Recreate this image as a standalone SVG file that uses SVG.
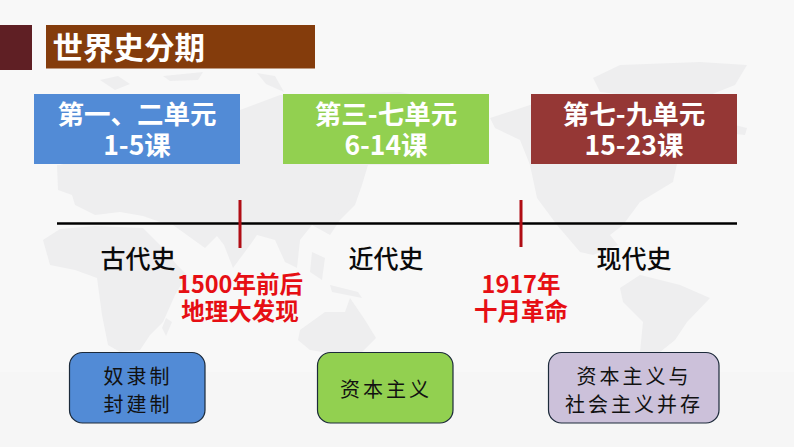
<svg xmlns="http://www.w3.org/2000/svg" width="794" height="447" viewBox="0 0 794 447">
<style>
.cn{font-family:"Noto Sans CJK SC","Liberation Sans",sans-serif}
.hd{font-weight:700;fill:#fff;font-size:26.500px;text-anchor:middle}
.per{font-size:25px;fill:#0a0a0a;text-anchor:middle;font-weight:500}
.red{font-weight:700;fill:#e60f14;font-size:23.500px;text-anchor:middle}
.era{font-size:20px;fill:#111;text-anchor:middle;letter-spacing:3px}
.box{stroke:#1c2a3a;stroke-width:1.2}
.map{fill:#eeeeef}
</style>
<rect width="794" height="447" fill="#f8f8f8"/>
<rect y="372" width="794" height="75" fill="#f6f6f6"/>
<g id="world-map">
<path class="map" d="M100 80L118 76L130 84L115 90Z"/>
<path class="map" d="M163 76L203 72L198 80L170 81Z"/>
<path class="map" d="M257 73L275 76L284 92L266 84Z"/>
<path class="map" d="M240 110L280 95L400 92L440 100L470 130L450 165H57L60 165Z"/>
<path class="map" d="M57 165H368L362 185L355 205L340 220L330 235L312 225L300 240L297 268L285 262L275 240L257 235L250 245L233 268L224 245L217 236L205 248L173 225L160 222L143 216L120 212L95 215L75 205L72 195L58 190Z"/>
<path class="map" d="M338 190L350 175L354 190L344 212L332 216Z"/>
<path class="map" d="M43 240L60 229L95 226L143 228L160 245L177 265L187 275L175 295L163 322L150 335L140 350L120 352L108 345L102 315L97 278L75 270L50 265Z"/>
<path class="map" d="M166 318L172 322L166 336L162 328Z"/>
<path class="map" d="M312 252L325 258L322 280L310 272Z"/>
<path class="map" d="M330 285L358 292L362 298L332 292Z"/>
<path class="map" d="M300 330L325 312L345 312L350 298L365 320L376 338L362 352L340 355L310 350L298 340Z"/>
<path class="map" d="M593 78L620 65L700 62L747 65L735 85L710 95L650 98L600 92Z"/>
<path class="map" d="M735 125L747 128L745 135L735 134Z"/>
<path class="map" d="M490 118L530 105L600 95L640 110L700 120L680 150L673 182L640 202L623 225L610 235L618 245L593 255L580 252L557 225L537 198L530 165L520 140L495 128Z"/>
<path class="map" d="M620 288L640 275L680 285L710 298L687 322L675 340L660 352L640 352L643 322L623 302Z"/>
</g>
<g id="title">
<rect x="0" y="25" width="32" height="45" fill="#5f1f24"/>
<rect x="46" y="25" width="269" height="43.500" fill="#843c0c"/>
<text class="cn" x="52.500" y="59" font-size="30.500" font-weight="700" fill="#fff">世界史分期</text>
</g>
<g id="connectors">
<line x1="57" y1="223.500" x2="737" y2="223.500" stroke="#000" stroke-width="2.500"/>
<line x1="240" y1="200" x2="240" y2="248" stroke="#b00d14" stroke-width="3"/>
<line x1="521" y1="200" x2="521" y2="247" stroke="#b00d14" stroke-width="3"/>
</g>
<g id="unit-1">
<rect x="34" y="94" width="206" height="70" fill="#528bd6"/>
<text class="cn hd" x="137" y="124">第一、二单元</text>
<text class="cn hd" x="137" y="155">1-5课</text>
</g>
<g id="unit-2">
<rect x="283" y="94" width="206" height="70" fill="#92d050"/>
<text class="cn hd" x="386" y="124">第三-七单元</text>
<text class="cn hd" x="386" y="155">6-14课</text>
</g>
<g id="unit-3">
<rect x="531" y="94" width="206" height="70" fill="#953735"/>
<text class="cn hd" x="634" y="124">第七-九单元</text>
<text class="cn hd" x="634" y="155">15-23课</text>
</g>
<g id="period-ancient"><text class="cn per" x="138" y="268">古代史</text></g>
<g id="period-modern"><text class="cn per" x="386" y="268">近代史</text></g>
<g id="period-contemporary"><text class="cn per" x="634" y="268">现代史</text></g>
<g id="event-1500">
<text class="cn red" x="240" y="292.500">1500年前后</text>
<text class="cn red" x="240" y="320">地理大发现</text>
</g>
<g id="event-1917">
<text class="cn red" x="521" y="292.500">1917年</text>
<text class="cn red" x="521" y="320">十月革命</text>
</g>
<g id="era-1">
<rect class="box" x="69.500" y="352.500" width="135.500" height="70.500" rx="13" fill="#528bd6"/>
<text class="cn era" x="138" y="384">奴隶制</text>
<text class="cn era" x="138" y="412">封建制</text>
</g>
<g id="era-2">
<rect class="box" x="317.500" y="352.500" width="135.500" height="70.500" rx="13" fill="#92d050"/>
<text class="cn era" x="386" y="397">资本主义</text>
</g>
<g id="era-3">
<rect class="box" x="548.500" y="352.500" width="170.500" height="70.500" rx="13" fill="#ccc1da"/>
<text class="cn era" x="634" y="384">资本主义与</text>
<text class="cn era" x="634" y="412">社会主义并存</text>
</g>
</svg>
